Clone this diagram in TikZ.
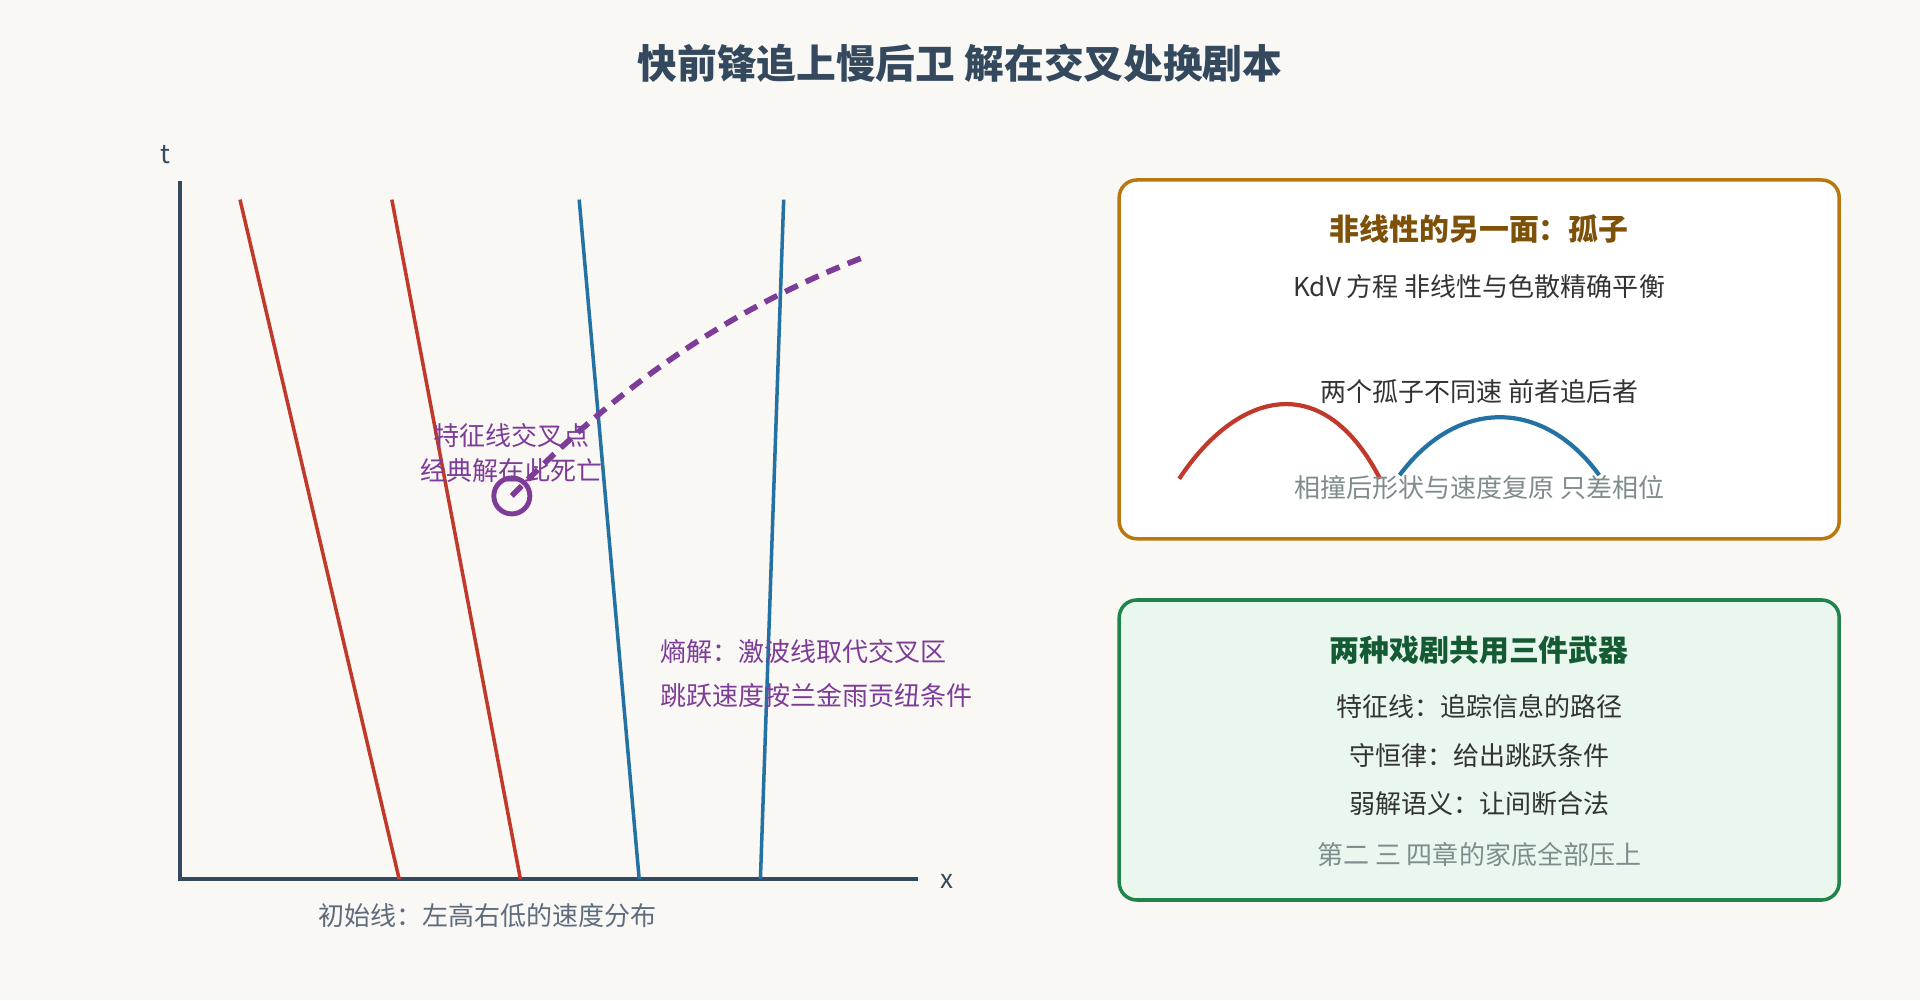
\documentclass[tikz,border=0pt]{standalone}
\usepackage{fontspec}
\setmainfont{Noto Sans CJK SC}
\definecolor{bgc}{HTML}{FAF8F4}
\definecolor{axisc}{HTML}{34495E}
\definecolor{redc}{HTML}{C0392B}
\definecolor{bluec}{HTML}{2471A3}
\definecolor{purp}{HTML}{7D3C98}
\definecolor{greyc}{HTML}{7F8C8D}
\definecolor{textc}{HTML}{333333}
\begin{document}
\begin{tikzpicture}[x=0.012245cm, y=-0.012245cm,
   every node/.style={font=\fontsize{7.4}{8}\selectfont, text=textc, inner sep=0pt},
   charred/.style={redc, line width=1pt},
   charblue/.style={bluec, line width=1pt},
   note/.style={text=purp},
   panel/.style={rounded corners=5pt, line width=1pt},
   head/.style={font=\fontsize{8.5}{9}\selectfont\bfseries}]
   \fill[bgc] (0,0) rectangle (1568,816.7);
   \useasboundingbox (0,0) rectangle (1568,816.7);
   \node[font=\fontsize{11.3}{12}\selectfont\bfseries, text=axisc] (title) at (784,52) {快前锋追上慢后卫 解在交叉处换剧本};
   % axes
   \coordinate (o) at (147,718);
   \coordinate (ytop) at (147,148);
   \coordinate (xend) at (750,718);
   \draw[axisc, line width=1.2pt] (ytop) -- (o) -- (xend);
   \node[text=axisc] (tl) at (135,126) {t};
   \node[text=axisc] (xl) at (773,720) {x};
   % characteristics
   \draw[charred] (196,163) -- (326,718);
   \draw[charred] (320,163) -- (425,718);
   \draw[charblue] (473,163) -- (522,718);
   \draw[charblue] (640,163) -- (621,718);
   % shock
   \node[draw=purp, circle, line width=1.4pt, minimum size=0.36cm] (cross) at (418,405) {};
   \draw[purp, line width=1.6pt, dash pattern=on 4pt off 2.5pt]
      (cross.center) .. controls (500,320) and (590,255) .. (703,211);
   \node[note, align=center] (crossnote) at (418,370) {特征线交叉点\\[2pt]经典解在此死亡};
   \node[note, anchor=west] (ent1) at (539,532) {熵解：激波线取代交叉区};
   \node[note, anchor=west] (ent2) at (539,568) {跳跃速度按兰金雨贡纽条件};
   \node[text=axisc!80] (init) at (398,748) {初始线：左高右低的速度分布};
   % soliton panel
   \draw[panel, draw={rgb,255:red,185;green,119;blue,14}, fill=white] (914,147) rectangle (1502,440);
   \node[head, text={rgb,255:red,126;green,81;blue,9}] (soltitle) at (1208,187) {非线性的另一面：孤子};
   \node (kdv) at (1208,234) {KdV 方程 非线性与色散精确平衡};
   \node (chase) at (1208,320) {两个孤子不同速 前者追后者};
   \draw[charred, line width=1.2pt] (963,391) .. controls (1010,320) and (1080,300) .. (1127,391);
   \draw[charblue, line width=1.2pt] (1143,388) .. controls (1190,325) and (1260,325) .. (1306,388);
   \node[text=greyc] (phase) at (1208,398) {相撞后形状与速度复原 只差相位};
   % weapons panel
   \draw[panel, draw={rgb,255:red,30;green,132;blue,73}, fill={rgb,255:red,233;green,247;blue,239}] (914,490) rectangle (1502,735);
   \node[head, text={rgb,255:red,20;green,90;blue,50}] (wtitle) at (1208,531) {两种戏剧共用三件武器};
   \node (w1) at (1208,577) {特征线：追踪信息的路径};
   \node (w2) at (1208,617) {守恒律：给出跳跃条件};
   \node (w3) at (1208,656) {弱解语义：让间断合法};
   \node[text=greyc] (w4) at (1208,698) {第二 三 四章的家底全部压上};
\end{tikzpicture}
\end{document}
